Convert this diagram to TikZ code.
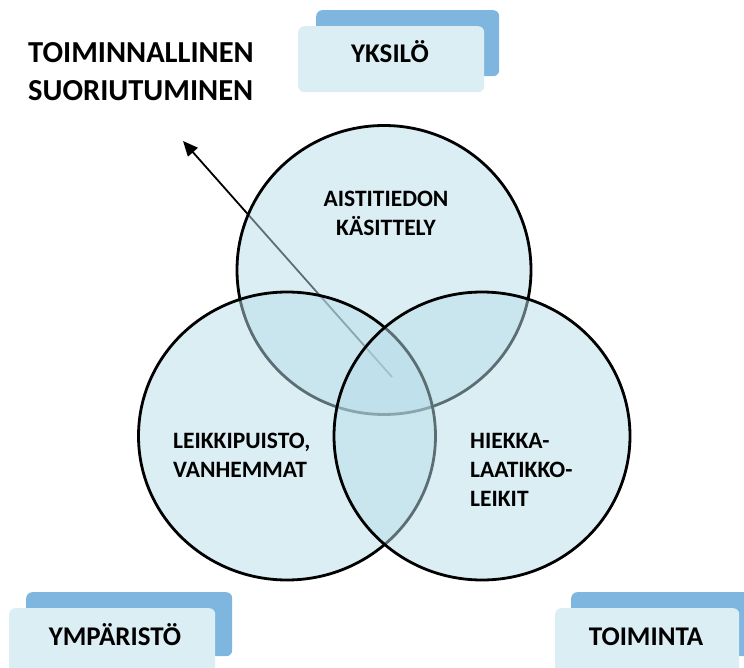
\documentclass[tikz,border=0pt]{standalone}
\usepackage{fontspec}
\setmainfont{Carlito}
\usetikzlibrary{arrows.meta,shapes.geometric}
\definecolor{backblue}{RGB}{127,182,223}
\definecolor{frontblue}{RGB}{219,238,244}
\definecolor{vennfill}{RGB}{183,221,232}
\begin{document}
\begin{tikzpicture}[x=1pt,y=-1pt,
  backbox/.style={fill=backblue, rounded corners=6pt, anchor=north west, inner sep=0pt},
  frontbox/.style={fill=frontblue, rounded corners=6pt, anchor=north west, inner sep=0pt},
  venn/.style={ellipse, draw=black, line width=2.8pt, fill=vennfill, fill opacity=0.5, draw opacity=1, inner sep=0pt},
  boxlabel/.style={font=\bfseries\fontsize{27}{32}\selectfont, anchor=base, inner sep=0pt},
  venntext/.style={font=\bfseries\fontsize{23.5}{29}\selectfont, inner sep=0pt},
  title/.style={font=\bfseries\fontsize{30.5}{38}\selectfont, align=left, anchor=base west, inner sep=0pt},
  pointer/.style={line width=1.8pt, -{Triangle[length=15pt,width=13pt]}}
]
\useasboundingbox (0,0) rectangle (744,668);
% boxes
\node[backbox, minimum width=183pt, minimum height=66pt] (ybk) at (316,10) {};
\node[frontbox, minimum width=186pt, minimum height=66pt] (yfr) at (298,26) {};
\node[backbox, minimum width=206pt, minimum height=64pt] (mbk) at (26,592) {};
\node[frontbox, minimum width=206pt, minimum height=90pt] (mfr) at (9,608) {};
\node[backbox, minimum width=200pt, minimum height=64pt] (tbk) at (571,592) {};
\node[frontbox, minimum width=184pt, minimum height=90pt] (tfr) at (555,608) {};
\node[boxlabel] (yl) at (390,63) {YKSILÖ};
\node[boxlabel] (ml) at (115,645) {YMPÄRISTÖ};
\node[boxlabel] (tl) at (646,645) {TOIMINTA};
% title
\node[title] (ttl) at (28,101) {TOIMINNALLINEN\\SUORIUTUMINEN};
% arrow
\coordinate (atail) at (392,377);
\coordinate (ahead) at (183,141);
\draw[pointer] (atail) -- (ahead);
% circles
\node[venn, minimum width=294pt, minimum height=289pt] (ctop) at (384,270) {};
\node[venn, minimum width=297pt, minimum height=288pt] (cleft) at (287,436) {};
\node[venn, minimum width=296pt, minimum height=288pt] (cright) at (482,436) {};
% circle texts
\node[venntext, align=center, anchor=base] (t1) at (386,236) {AISTITIEDON\\KÄSITTELY};
\node[venntext, align=left, anchor=base west] (t2) at (173,477) {LEIKKIPUISTO,\\VANHEMMAT};
\node[venntext, align=left, anchor=base west] (t3) at (470,506) {HIEKKA-\\LAATIKKO-\\LEIKIT};
\end{tikzpicture}
\end{document}
